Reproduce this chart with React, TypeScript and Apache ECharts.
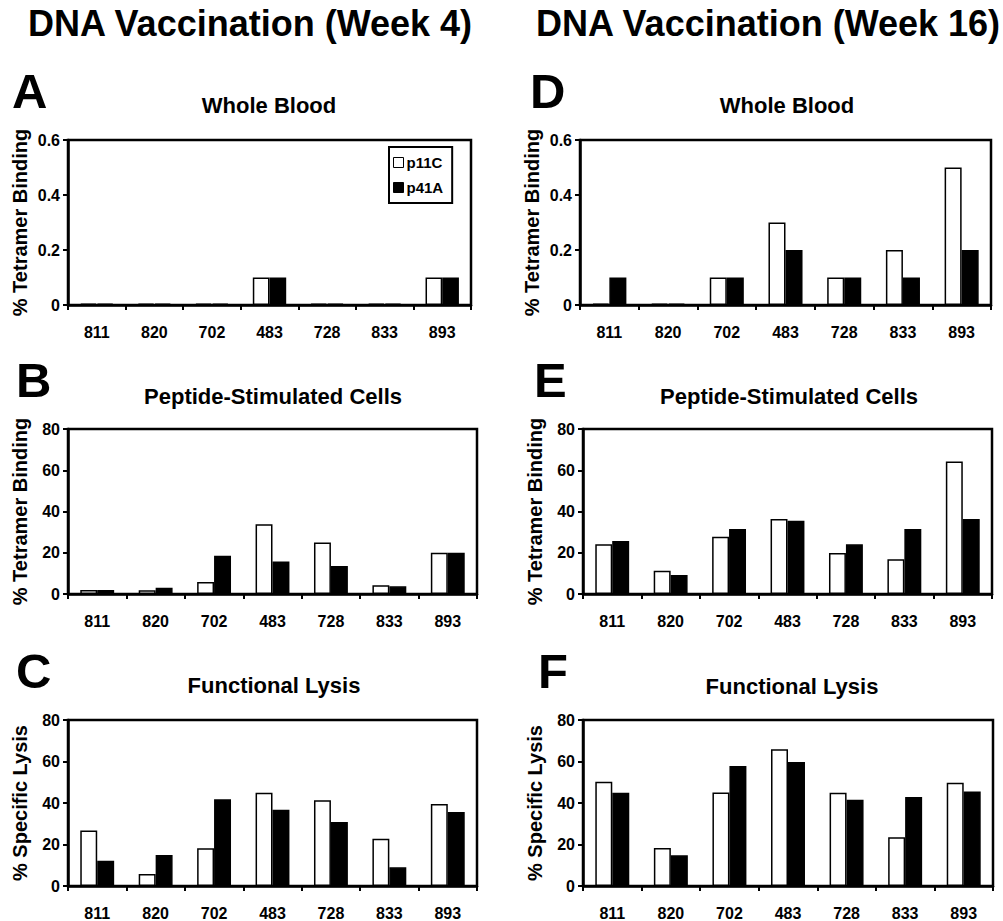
import React, { useEffect, useRef } from "react";
import * as echarts from "echarts";

const categories = ["811", "820", "702", "483", "728", "833", "893"];
const seriesNames = ["p11C", "p41A"];

const wholeBloodW4_p11C = [0.005, 0.005, 0.005, 0.1, 0.005, 0.005, 0.1];
const wholeBloodW4_p41A = [0.005, 0.005, 0.005, 0.1, 0.005, 0.005, 0.1];
const peptideW4_p11C = [2, 1.8, 5.8, 33.8, 25, 4.2, 20];
const peptideW4_p41A = [2, 3, 18.6, 15.8, 13.6, 3.7, 20];
const lysisW4_p11C = [26.8, 5.8, 18.2, 45, 41.3, 22.8, 39.5];
const lysisW4_p41A = [12.2, 14.9, 41.8, 36.8, 30.8, 9, 35.7];

const wholeBloodW16_p11C = [0.005, 0.005, 0.1, 0.3, 0.1, 0.2, 0.5];
const wholeBloodW16_p41A = [0.1, 0.005, 0.1, 0.2, 0.1, 0.1, 0.2];
const peptideW16_p11C = [24.1, 11.3, 27.8, 36.4, 19.9, 16.8, 64.3];
const peptideW16_p41A = [25.7, 9.2, 31.5, 35.5, 24.1, 31.5, 36.4];
const lysisW16_p11C = [50.3, 18.3, 45.1, 65.9, 45, 23.5, 49.8];
const lysisW16_p41A = [45, 14.8, 57.8, 59.8, 41.6, 42.9, 45.6];

const headers = ["DNA Vaccination (Week 4)", "DNA Vaccination (Week 16)"];
const panelLetters = ["A", "B", "C", "D", "E", "F"];
const panelTitles = [
  "Whole Blood",
  "Peptide-Stimulated Cells",
  "Functional Lysis",
  "Whole Blood",
  "Peptide-Stimulated Cells",
  "Functional Lysis",
];
const yNames = [
  "% Tetramer Binding",
  "% Tetramer Binding",
  "% Specific Lysis",
  "% Tetramer Binding",
  "% Tetramer Binding",
  "% Specific Lysis",
];
// y scale [min, max, interval] per panel
const bloodScale = [0, 0.6, 0.2];
const percentScale = [0, 80, 20];
const yScales = [bloodScale, percentScale, percentScale, bloodScale, percentScale, percentScale];

const panelData = [
  [wholeBloodW4_p11C, wholeBloodW4_p41A],
  [peptideW4_p11C, peptideW4_p41A],
  [lysisW4_p11C, lysisW4_p41A],
  [wholeBloodW16_p11C, wholeBloodW16_p41A],
  [peptideW16_p11C, peptideW16_p41A],
  [lysisW16_p11C, lysisW16_p41A],
];

// layout (pixels)
const grids = [
  { left: 68, top: 140, width: 403, height: 165 },
  { left: 68, top: 429, width: 409, height: 165 },
  { left: 68, top: 720, width: 409, height: 166 },
  { left: 580, top: 140, width: 411, height: 165 },
  { left: 583, top: 429, width: 409, height: 165 },
  { left: 583, top: 720, width: 410, height: 166 },
];
const letterPos = [
  [12, 91], [16, 380], [16, 671], [530, 91], [534, 380], [538, 671],
];
const titlePos = [
  [269, 105], [273, 396], [274, 685], [787, 105], [789, 396], [792, 686],
];
const headerPos = [[250, 23], [768, 23]];

const FONT = '"Liberation Sans", Arial, Helvetica, sans-serif';

export default function App() {
  const ref = useRef<HTMLDivElement>(null);
  useEffect(() => {
    if (!ref.current) return;
    const chart = echarts.init(ref.current, null, { renderer: "svg" });

    const graphic: any[] = [];
    headers.forEach((h, i) => {
      graphic.push({
        type: "text",
        x: headerPos[i][0],
        y: headerPos[i][1],
        style: {
          text: h,
          font: `bold 36px ${FONT}`,
          fill: "#000",
          align: "center",
          verticalAlign: "middle",
        },
      });
    });
    panelLetters.forEach((l, i) => {
      graphic.push({
        type: "text",
        x: letterPos[i][0],
        y: letterPos[i][1],
        style: {
          text: l,
          font: `bold 49px ${FONT}`,
          fill: "#000",
          align: "left",
          verticalAlign: "middle",
        },
      });
    });
    panelTitles.forEach((t, i) => {
      graphic.push({
        type: "text",
        x: titlePos[i][0],
        y: titlePos[i][1],
        style: {
          text: t,
          font: `bold 22px ${FONT}`,
          fill: "#000",
          align: "center",
          verticalAlign: "middle",
        },
      });
    });

    const series: any[] = [];
    panelData.forEach((pair, i) => {
      pair.forEach((vals, s) => {
        series.push({
          type: "bar",
          name: seriesNames[s],
          xAxisIndex: i,
          yAxisIndex: i,
          data: vals,
          barWidth: "29%",
          barGap: "0%",
          itemStyle: {
            color: s === 0 ? "#ffffff" : "#000000",
            borderColor: "#000",
            borderWidth: 1.5,
          },
        });
      });
    });

    const option: any = {
      animation: false,
      backgroundColor: "#fff",
      textStyle: { fontFamily: FONT },
      graphic,
      legend: {
        data: seriesNames,
        orient: "vertical",
        left: 389,
        top: 147,
        padding: [8, 9, 8, 4],
        itemWidth: 10,
        itemHeight: 10,
        itemGap: 10,
        borderColor: "#000",
        borderWidth: 2,
        icon: "rect",
        itemStyle: { borderColor: "#000", borderWidth: 1 },
        textStyle: { fontFamily: FONT, fontWeight: "bold", fontSize: 15, color: "#000", padding: [0, 0, 0, -2] },
      },
      grid: grids.map((g) => ({
        ...g,
        show: true,
        borderColor: "#000",
        borderWidth: 2.5,
        backgroundColor: "transparent",
        containLabel: false,
      })),
      xAxis: grids.map((_, i) => ({
        type: "category",
        gridIndex: i,
        data: categories,
        axisLine: { lineStyle: { color: "#000", width: 2.5 } },
        axisTick: { show: true, length: 5, lineStyle: { color: "#000", width: 2 } },
        axisLabel: {
          color: "#000",
          fontFamily: FONT,
          fontWeight: "bold",
          fontSize: 16,
          margin: 19,
        },
        splitLine: { show: false },
      })),
      yAxis: grids.map((_, i) => ({
        type: "value",
        gridIndex: i,
        min: yScales[i][0],
        max: yScales[i][1],
        interval: yScales[i][2],
        name: yNames[i],
        nameLocation: "middle",
        nameGap: 38,
        nameTextStyle: { color: "#000", fontFamily: FONT, fontWeight: "bold", fontSize: 20 },
        axisLine: { show: true, lineStyle: { color: "#000", width: 2.5 } },
        axisTick: { show: true, length: 5, lineStyle: { color: "#000", width: 2 } },
        axisLabel: {
          color: "#000",
          fontFamily: FONT,
          fontWeight: "bold",
          fontSize: 16,
          margin: 8,
        },
        splitLine: { show: false },
      })),
      series,
    };
    chart.setOption(option);
    return () => chart.dispose();
  }, []);
  return (
    <div
      ref={ref}
      style={{ position: "fixed", left: 0, top: 0, width: 1003, height: 921, background: "#fff" }}
    />
  );
}
